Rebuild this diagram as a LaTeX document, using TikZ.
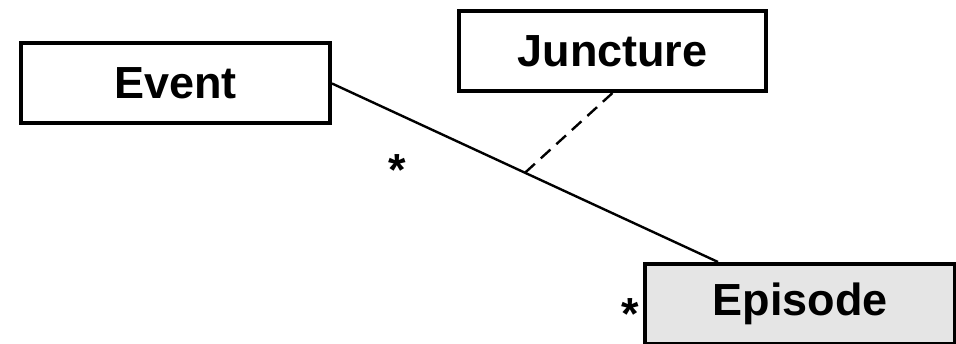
\documentclass[tikz,border=0pt]{standalone}
\usepackage{fontspec}
\setmainfont{Liberation Sans}
\usepackage{tikz}
\usepackage{xcolor}

\tikzset{
  umlbox/.style={draw,line width=4pt,fill=white,inner sep=0pt,minimum width=309pt,minimum height=80pt,font=\fontsize{45}{54}\selectfont\bfseries},
  mult/.style={inner sep=0pt,font=\fontsize{45}{54}\selectfont\bfseries}
}

\begin{document}
\begin{tikzpicture}[x=1pt,y=-1pt]
					\useasboundingbox (0,0) rectangle (956,344);
					\node[umlbox] (event) at (175.5,83.5){Event};
					\node[umlbox,minimum width=307pt] (juncture) at (612.5,51){Juncture};
					\node[umlbox,fill=gray!20,minimum width=310pt] (episode) at (800,304){Episode};
					\draw[line width=2.4pt] (event.east)--coordinate[pos=0.5](assoc) ([xshift=75pt]episode.north west);
					\draw[line width=2.4pt,dash pattern=on 13pt off 8pt] (juncture.south)--(assoc);
					\node[mult] (multevent) at (397,170){*};
					\node[mult] (multepisode) at (630,314){*};
				\end{tikzpicture}
\end{document}
